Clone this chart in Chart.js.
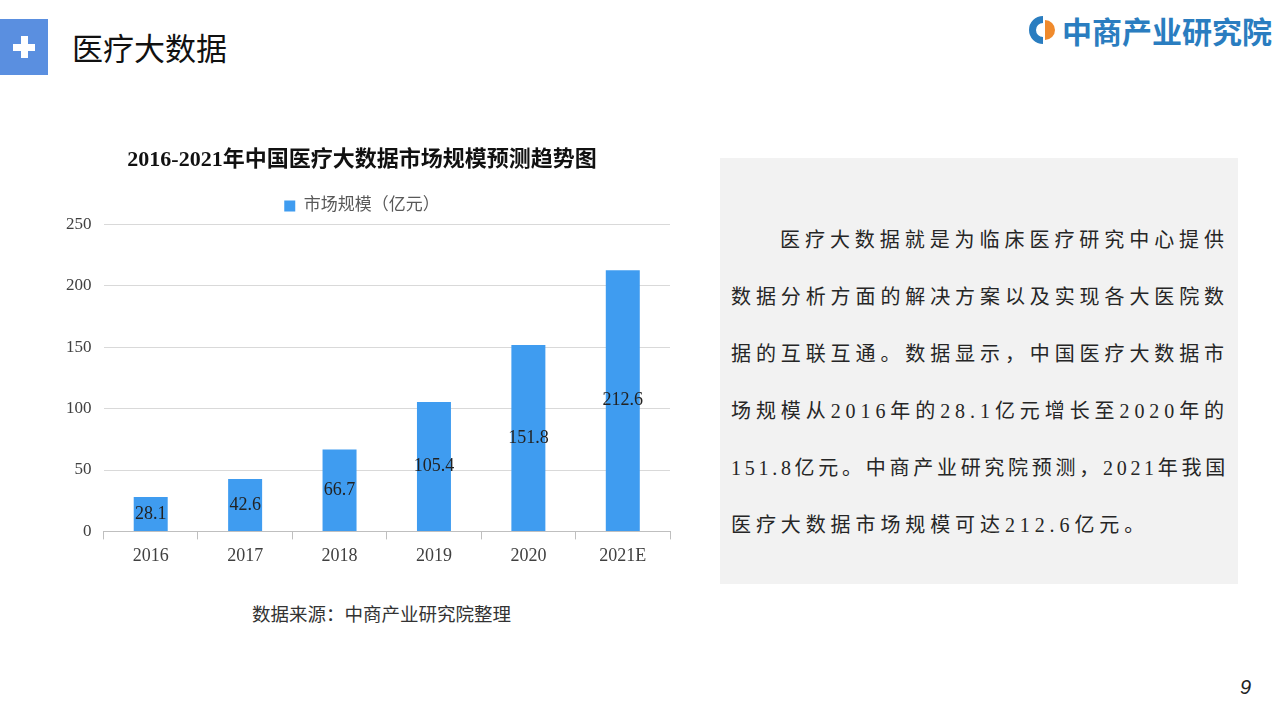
<!DOCTYPE html>
<html lang="zh-CN">
<head>
  <meta charset="UTF-8" />
  <title>医疗大数据</title>
  <script src="https://cdn.jsdelivr.net/npm/chart.js"></script>
  <style>
    body {
      margin: 0;
      width: 1280px;
      height: 720px;
      position: relative;
      overflow: hidden;
      background: #fff;
      font-family: "Liberation Serif", "Noto Sans CJK SC", serif;
    }
    .head-box {
      position: absolute;
      left: 0; top: 19px;
      width: 48px; height: 56px;
      background: #5a8fe0;
    }
    .head-box:before, .head-box:after {
      content: "";
      position: absolute;
      background: #fff;
    }
    .head-box:before { left: 13px; top: 25px; width: 22px; height: 7px; }
    .head-box:after { left: 20.5px; top: 17px; width: 7px; height: 22px; }
    .head-title {
      position: absolute;
      left: 72px; top: 24px;
      font-size: 31px;
      color: #111;
    }
    .logo {
      position: absolute;
      left: 1027px; top: 8px;
      display: flex;
      align-items: center;
      gap: 3px;
      font-family: "Noto Sans CJK SC", sans-serif;
      font-weight: bold;
      font-size: 30px;
      color: #2a7dc0;
    }
    #wrap {
      position: absolute;
      left: 50px; top: 138px;
      width: 650px; height: 445px;
    }
    .source {
      position: absolute;
      left: 252px; top: 600px;
      font-size: 18.5px;
      color: #333;
    }
    .textbox {
      position: absolute;
      left: 720px; top: 158px;
      width: 518px; height: 426px;
      background: #f2f2f2;
    }
    .line {
      position: absolute;
      left: 11px;
      font-size: 20px;
      color: #262626;
      white-space: nowrap;
    }
    .page-no {
      position: absolute;
      left: 1240px; top: 676px;
      font-family: "Liberation Sans", sans-serif;
      font-style: italic;
      font-size: 20px;
      color: #222;
    }
  </style>
</head>
<body>
  <div class="head-box"></div>
  <div class="head-title">医疗大数据</div>
  <div class="logo">
    <svg width="32" height="32" viewBox="0 0 32 32">
      <path d="M16 2 A14 14 0 1 0 16 30 L16 23 A7 7 0 1 1 16 9 Z" fill="#2a7dc0"/>
      <path d="M18 6 A10 10 0 0 1 18 26 Z" fill="#f08a2c"/>
    </svg>
    <span>中商产业研究院</span>
  </div>

  <div id="wrap"><canvas id="chart"></canvas></div>
  <div class="source">数据来源：中商产业研究院整理</div>

  <div class="textbox">
    <div class="line fit" data-w="449" style="top:66px; left:60px;">医疗大数据就是为临床医疗研究中心提供</div>
    <div class="line fit" data-w="498" style="top:123px;">数据分析方面的解决方案以及实现各大医院数</div>
    <div class="line fit" data-w="498" style="top:180px;">据的互联互通。数据显示，中国医疗大数据市</div>
    <div class="line fit" data-w="498" style="top:237px;">场规模从2016年的28.1亿元增长至2020年的</div>
    <div class="line fit" data-w="498" style="top:294px;">151.8亿元。中商产业研究院预测，2021年我国</div>
    <div class="line" style="top:351px; letter-spacing:4.9px;">医疗大数据市场规模可达212.6亿元。</div>
  </div>

  <div class="page-no">9</div>

  <script>
    const years = ["2016", "2017", "2018", "2019", "2020", "2021E"];
    const marketSize = [28.1, 42.6, 66.7, 105.4, 151.8, 212.6];
    const yTicks = [0, 50, 100, 150, 200, 250];

    const serif = '"Liberation Serif", "Noto Sans CJK SC", serif';

    // stretch each text line to the box width
    document.querySelectorAll(".fit").forEach(el => {
      const target = +el.dataset.w;
      const n = [...el.textContent].length;
      const natural = el.getBoundingClientRect().width;
      el.style.letterSpacing = ((target - natural) / n) + "px";
    });

    // labels in the middle of each bar
    const midLabels = {
      id: "midLabels",
      afterDatasetsDraw(chart) {
        const ctx = chart.ctx;
        const meta = chart.getDatasetMeta(0);
        ctx.save();
        ctx.font = "18px " + serif;
        ctx.fillStyle = "#222";
        ctx.textAlign = "center";
        ctx.textBaseline = "middle";
        meta.data.forEach((bar, i) => {
          const y = (bar.y + bar.base) / 2;
          ctx.fillText(marketSize[i].toFixed(1), bar.x, y);
        });
        ctx.restore();
      }
    };

    new Chart(document.getElementById("chart"), {
      type: "bar",
      data: {
        labels: years,
        datasets: [{
          label: "市场规模（亿元）",
          data: marketSize,
          backgroundColor: "#3f9cf0",
          categoryPercentage: 1,
          barPercentage: 0.36
        }]
      },
      options: {
        responsive: true,
        maintainAspectRatio: false,
        animation: false,
        layout: { padding: { left: 4, right: 30, top: 4, bottom: 10 } },
        plugins: {
          title: {
            display: true,
            text: "2016-2021年中国医疗大数据市场规模预测趋势图",
            color: "#111",
            font: { family: serif, size: 22, weight: "bold" },
            padding: { top: 5, bottom: 16 }
          },
          legend: {
            display: true,
            labels: {
              boxWidth: 11,
              boxHeight: 11,
              color: "#595959",
              font: { family: serif, size: 17 },
              padding: 8
            }
          },
          tooltip: { enabled: false }
        },
        scales: {
          x: {
            grid: {
              drawOnChartArea: false,
              drawTicks: true,
              tickLength: 8,
              color: "#bfbfbf"
            },
            border: { display: true, color: "#bfbfbf" },
            ticks: {
              color: "#404040",
              font: { family: serif, size: 18 },
              padding: 6
            }
          },
          y: {
            min: 0,
            max: 250,
            afterBuildTicks(axis) {
              axis.ticks = yTicks.map(v => ({ value: v }));
            },
            grid: { color: "#d9d9d9", drawTicks: false },
            border: { display: false },
            ticks: {
              color: "#404040",
              font: { family: serif, size: 17 },
              padding: 12
            }
          }
        }
      },
      plugins: [midLabels]
    });
  </script>
</body>
</html>
